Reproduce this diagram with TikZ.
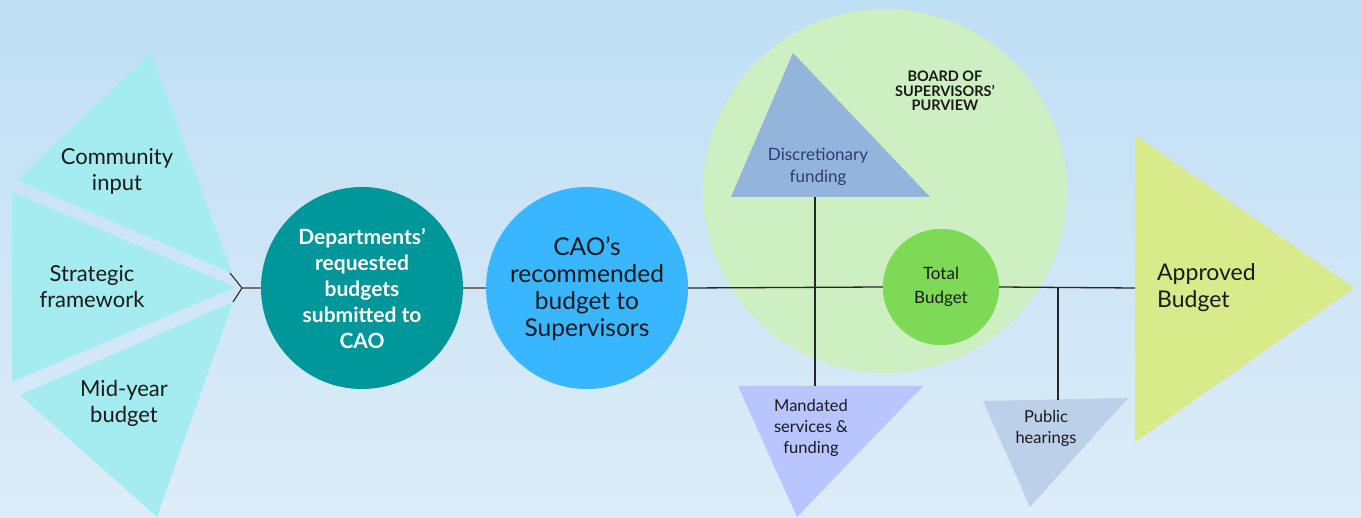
\documentclass[tikz,border=0pt]{standalone}
\usepackage{fontspec}
\setmainfont{Lato}
\newfontfamily\boldfam{Lato}
\definecolor{bgtop}{HTML}{BFDFF5}
\definecolor{bgbot}{HTML}{DDECF8}
\definecolor{fan}{HTML}{A5ECF0}
\definecolor{teal}{HTML}{00979A}
\definecolor{caoblue}{HTML}{38B6FF}
\definecolor{purview}{HTML}{CDEFC1}
\definecolor{discr}{HTML}{93B5DB}
\definecolor{discrtxt}{HTML}{2E3A78}
\definecolor{totalg}{HTML}{7ED957}
\definecolor{mandc}{HTML}{B8C5FE}
\definecolor{pubc}{HTML}{BDD0EA}
\definecolor{apprc}{HTML}{D9EA8A}
\definecolor{txt}{HTML}{1A1A1A}
\tikzset{
  lbl/.style={align=center, text=txt, inner sep=0pt},
  conn/.style={draw=black!85, line width=1.3pt},
  greyconn/.style={draw=black!55, line width=1.6pt},
}
\begin{document}
\begin{tikzpicture}[x=1pt,y=-1pt]
\useasboundingbox (0,0) rectangle (1361,518);
\fill[top color=bgtop, bottom color=bgbot] (0,0) rectangle (1361,518);

% left fans
\fill[fan] (151,53) -- (17,180) -- (232,273) -- cycle;
\fill[fan] (12,192) -- (12,382) -- (235,287) -- cycle;
\fill[fan] (20,395) -- (233,302) -- (157,517) -- cycle;
\node[lbl, font=\fontsize{22}{26}\selectfont] (comm) at (117,171) {Community\\input};
\node[lbl, font=\fontsize{22}{26}\selectfont] (strat) at (92,287) {Strategic\\framework};
\node[lbl, font=\fontsize{22}{26}\selectfont] (mid) at (124,403) {Mid-year\\budget};

% big purview circle
\node[circle, fill=purview, minimum size=364pt, inner sep=0pt] (purv) at (885,191) {};
\node[align=center, inner sep=0pt, font=\fontsize{14.5}{14.5}\selectfont\bfseries, text=txt] (board) at (945,91) {BOARD OF\\SUPERVISORS'\\PURVIEW};

% main circles
\node[circle, fill=teal, minimum size=202pt, inner sep=0pt] (dept) at (362,288) {};
\node[align=center, text=white, font=\fontsize{21}{26}\selectfont\bfseries] at (dept.center) {Departments'\\requested\\budgets\\submitted to\\CAO};
\node[circle, fill=caoblue, minimum size=202pt, inner sep=0pt] (cao) at (587,288) {};
\node[align=center, text=txt, font=\fontsize{24.5}{27}\selectfont] at ([yshift=-1pt]cao.center) {CAO's\\recommended\\budget to\\Supervisors};
\node[circle, fill=totalg, minimum size=116pt, inner sep=0pt] (total) at (941,287) {};

% triangles
\fill[discr] (793,53) -- (731,197) -- (930,197) -- cycle;
\coordinate (discB) at (815,197);
\node[lbl, text=discrtxt, font=\fontsize{17}{22}\selectfont] (disc) at (818,167) {Discretionary\\funding};

\fill[mandc] (738,386) -- (923,386) -- (797,517) -- cycle;
\coordinate (mandT) at (815,386);
\node[lbl, font=\fontsize{16.5}{21}\selectfont] (mand) at (811,428) {Mandated\\services \&\\funding};

\fill[pubc] (983,401) -- (1128,398) -- (1030,507) -- cycle;
\coordinate (pubT) at (1058,400);
\node[lbl, font=\fontsize{16.5}{21}\selectfont] (pub) at (1046,428) {Public\\hearings};

\fill[apprc] (1135,135) -- (1135,442) -- (1354,288) -- cycle;
\coordinate (apprL) at (1135,288);
\node[lbl, align=left, anchor=west, font=\fontsize{23}{27}\selectfont] (appr) at (1157,288) {Approved\\Budget};

% connectors
\coordinate (fanTip) at (242,288);
\draw[line width=1pt, black!90] (230,273) -- (fanTip) -- (233,302);
\draw[greyconn] (fanTip) -- (dept.west);
\draw[greyconn] (dept.east) -- (cao.west);
\draw[conn] (cao.east) -- (total.west);
\draw[conn] (discB) -- (mandT);
\coordinate (junc) at (1058,288);
\draw[conn] (total.east) -- (apprL);
\draw[conn] (junc) -- (pubT);

% redraw total circle on top with its text
\node[circle, fill=totalg, minimum size=116pt, inner sep=0pt] at (total.center) {};
\node[lbl, font=\fontsize{17}{24}\selectfont] at (total.center) {Total\\Budget};
\end{tikzpicture}
\end{document}
